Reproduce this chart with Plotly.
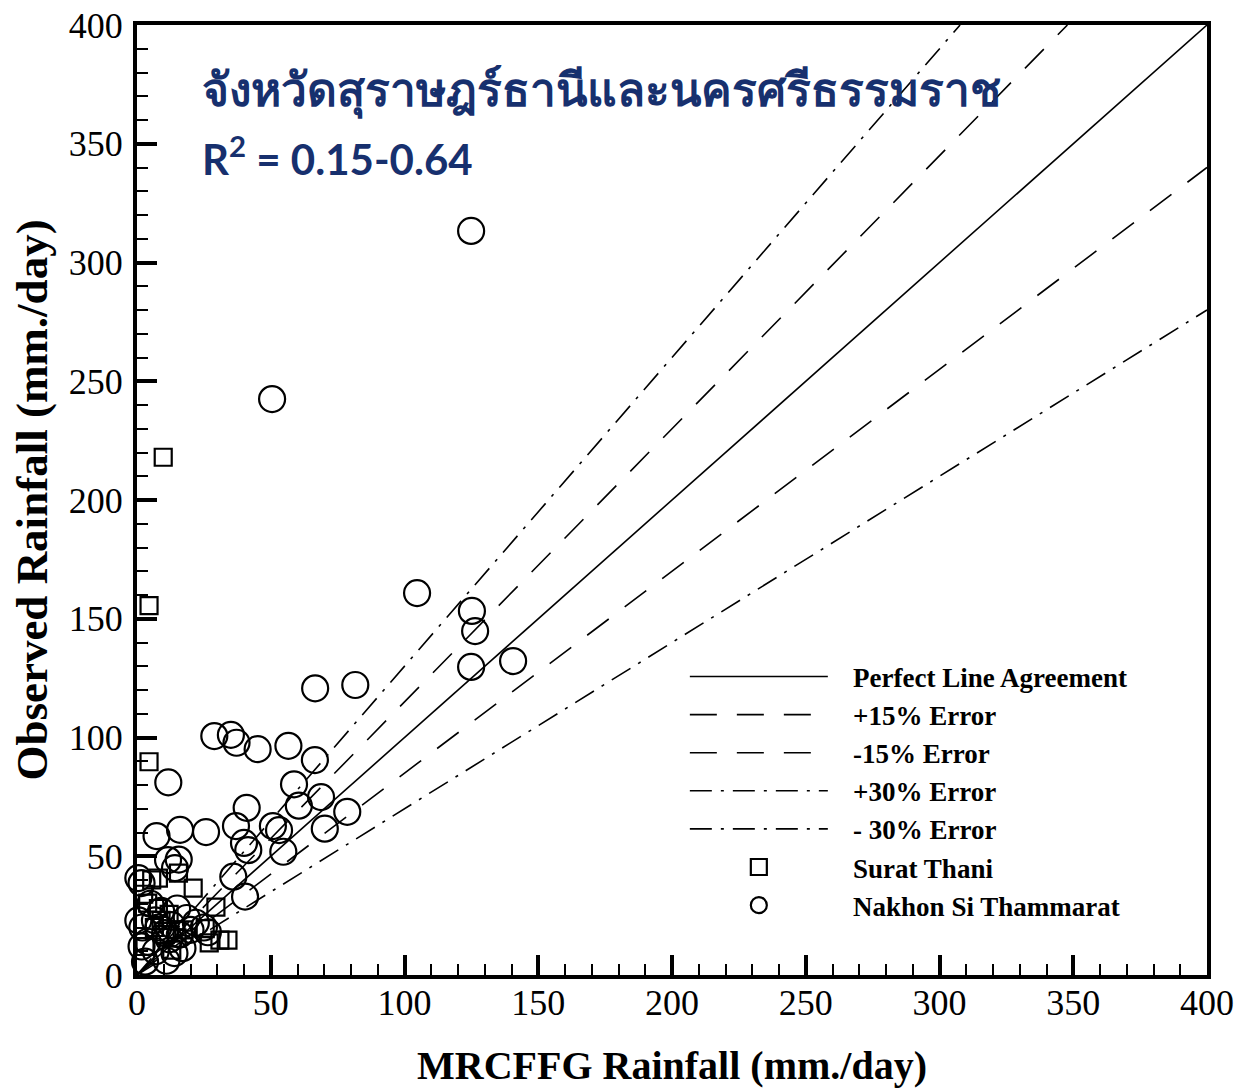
import plotly.graph_objects as go

# Surat Thani stations: (MRCFFG estimate, observed) in mm/day
surat_x = [9.8, 4.5, 4.5, 5.5, 8.0, 15.5, 21.0, 29.5, 4.0, 8.0, 12.0, 27.0, 31.0, 34.0,
           25.5, 2.5, 6.5, 10.5, 15.0, 3.0, 9.0, 17.5, 13.0]
surat_y = [218.0, 155.5, 89.8, 40.0, 40.8, 42.9, 36.6, 28.6, 30.3, 28.0, 25.5, 13.5, 14.7, 14.7,
           19.5, 34.0, 20.0, 17.0, 15.5, 12.0, 23.0, 19.0, 10.5]

# Nakhon Si Thammarat stations
nakhon_x = [124.9, 50.5, 104.7, 125.2, 126.4, 124.9, 140.6, 66.6, 81.6, 28.9, 35.1, 37.2,
            45.1, 56.6, 66.5, 11.7, 58.7, 41.0, 60.5, 68.8, 78.6, 37.0, 50.8, 53.1, 40.0,
            41.6, 54.7, 70.2, 25.8, 16.1, 7.3, 36.0, 40.4, 11.6, 15.6, 14.2, 0.5, 1.7,
            0.5, 1.7, 6.7, 10.5, 17.0, 18.6, 14.0, 3.0, 26.5, 8.0, 12.0, 5.0, 9.0, 13.0,
            20.0, 4.0, 15.0, 22.0, 11.0, 7.0, 2.0, 16.0, 25.0]
nakhon_y = [313.3, 242.5, 160.8, 153.3, 144.8, 129.7, 132.2, 120.7, 122.1, 100.6, 101.1, 97.8,
            95.1, 96.5, 90.5, 81.1, 80.3, 70.4, 71.3, 74.9, 68.7, 62.7, 62.7, 61.0, 55.6,
            52.6, 51.9, 61.6, 60.2, 61.1, 58.5, 41.4, 33.0, 48.4, 48.6, 45.0, 40.8, 38.7,
            23.0, 12.0, 23.0, 17.6, 11.3, 24.0, 9.2, 5.6, 18.0, 20.0, 15.0, 30.0, 27.0, 21.0,
            19.0, 14.0, 28.0, 22.0, 6.0, 10.0, 20.0, 17.0, 20.0]

# Reference lines: observed = factor * MRCFFG
AXIS_MAX = 400
ref_lines = [
    ("Perfect Line Agreement", 1.00, "solid"),
    ("+15% Error", 1.15, "27px,20px"),
    ("-15% Error", 0.85, "27px,20px"),
    ("+30% Error", 1.30, "22px,9px,3px,9px"),
    ("- 30% Error", 0.70, "22px,9px,3px,9px"),
]

# non-breaking spaces keep a gap between legend symbols and labels
PAD = "\u00a0\u00a0\u00a0"

fig = go.Figure()

for name, factor, dash in ref_lines:
    x_end = min(AXIS_MAX, AXIS_MAX / factor)
    fig.add_trace(go.Scatter(
        x=[0, x_end], y=[0, factor * x_end], mode="lines", name=PAD + name,
        line=dict(color="black", width=1.6, dash=dash),
    ))

fig.add_trace(go.Scatter(
    x=surat_x, y=surat_y, mode="markers", name=PAD + "Surat Thani", cliponaxis=False,
    marker=dict(symbol="square-open", size=17, color="black", line=dict(width=2.2)),
))
fig.add_trace(go.Scatter(
    x=nakhon_x, y=nakhon_y, mode="markers", name=PAD + "Nakhon Si Thammarat", cliponaxis=False,
    marker=dict(symbol="circle-open", size=26, color="black", line=dict(width=2.2)),
))

axis_common = dict(
    range=[0, AXIS_MAX], dtick=50, tick0=0, automargin=False,
    showline=True, linewidth=4, linecolor="black", mirror=True,
    ticks="inside", ticklen=20, tickwidth=4, tickcolor="black",
    minor=dict(dtick=10, ticks="inside", ticklen=11, tickwidth=1.5, tickcolor="black"),
    showgrid=False, zeroline=False,
    tickfont=dict(family="Liberation Serif", size=36, color="black"),
)

fig.update_xaxes(
    **axis_common,
    ticklabelstandoff=-7,
    title=dict(text="<b>MRCFFG Rainfall (mm./day)</b>", standoff=30,
               font=dict(family="Liberation Serif", size=40, color="black")),
)
fig.update_yaxes(
    **axis_common,
    ticklabelstandoff=3,
    title=dict(text="<b>Observed Rainfall (mm./day)</b>", standoff=8,
               font=dict(family="Liberation Serif", size=45, color="black")),
)

fig.add_annotation(
    text="<b>จังหวัดสุราษฎร์ธานีและนครศรีธรรมราช</b>",
    xref="paper", yref="paper", x=0.059, y=0.934, xanchor="left", yanchor="middle",
    showarrow=False, font=dict(family="Noto Sans, sans-serif", size=46, color="#17306e"),
)
fig.add_annotation(
    text="<b>R<sup>2</sup> = 0.15-0.64</b>",
    xref="paper", yref="paper", x=0.059, y=0.862, xanchor="left", yanchor="middle",
    showarrow=False, font=dict(family="Lato", size=42, color="#17306e"),
)

fig.update_layout(
    width=1240, height=1091,
    margin=dict(l=137, r=33, t=25, b=116),
    plot_bgcolor="white", paper_bgcolor="white",
    showlegend=True,
    legend=dict(
        x=0.512, y=0.3395, xanchor="left", yanchor="top",
        bgcolor="rgba(0,0,0,0)", borderwidth=0,
        itemwidth=138,
        font=dict(family="Liberation Serif", size=27, color="black", weight="bold"),
        tracegroupgap=0,
    ),
)

fig.write_html("out.html")
